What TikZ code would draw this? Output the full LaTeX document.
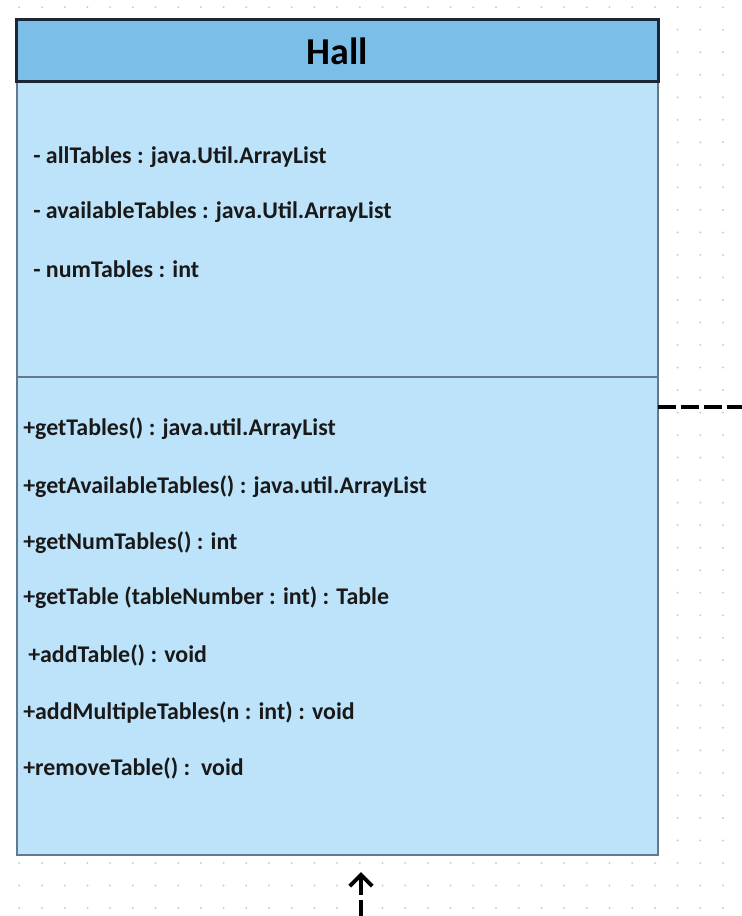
\documentclass[tikz,border=0pt]{standalone}
\usepackage{fontspec}
\setmainfont{Carlito}
\definecolor{HeaderColor}{RGB}{123,190,232}
\definecolor{BodyColor}{RGB}{189,227,251}
\definecolor{EdgeColor}{RGB}{27,40,52}
\definecolor{LineColor}{RGB}{98,122,140}
\definecolor{DotColor}{RGB}{205,205,205}
\usepackage{tikz}
\usetikzlibrary{positioning, arrows.meta}
\tikzstyle{header} = [rectangle, draw=EdgeColor, line width=2.1pt, fill=HeaderColor, outer sep=0pt, minimum width=16.025cm, minimum height=1.55cm, font=\fontsize{27}{32}\selectfont\bfseries]
\tikzstyle{section} = [rectangle, draw=LineColor, line width=1.4pt, fill=BodyColor, outer sep=0pt, inner sep=0pt, minimum width=16.025cm]
\tikzstyle{member} = [anchor=west, inner sep=0pt, text=black!90, font=\fontsize{17}{20}\selectfont\bfseries]
\tikzstyle{dep} = [line width=2.8pt, black, dash pattern=on 12.8pt off 3.5pt]

\begin{document}
\begin{tikzpicture}[x=0.025cm, y=-0.025cm]
            % Hall class box on a dotted canvas
            \useasboundingbox (0,0) rectangle (742,916);
            \foreach \i in {0,...,32}
                \foreach \j in {0,...,40}
                    \fill[DotColor] (19.3+22.7*\i, 7.2+22.52*\j) circle[radius=0.8pt];
            \node[section, minimum height=7.375cm] (attrs) at (337.5,229.5) {};
            \node[section, minimum height=11.95cm, below=0pt of attrs] (methods) {};
            \node[header, above=0pt of attrs] (hall) {Hall};
            \node[member] (a1) at (33,157) {- allTables : java.Util.ArrayList};
            \node[member] (a2) at (33,212) {- availableTables : java.Util.ArrayList};
            \node[member] (a3) at (33,269) {- numTables : int};
            \node[member] (m1) at (23,429) {+getTables() : java.util.ArrayList};
            \node[member] (m2) at (23,487) {+getAvailableTables() : java.util.ArrayList};
            \node[member] (m3) at (23,543) {+getNumTables() : int};
            \node[member] (m4) at (23,598) {+getTable (tableNumber : int) : Table};
            \node[member] (m5) at (28,655) {+addTable() : void};
            \node[member] (m6) at (23,712) {+addMultipleTables(n : int) : void};
            \node[member] (m7) at (23,768) {+removeTable() :\ \ void};
            \coordinate (out) at (760,407);
            \coordinate (in) at (361,940);
            \draw[dep] (methods.east |- out) -- (out);
            \draw[dep, {Straight Barb[length=8pt, width=16pt]}-, shorten <=0.425cm] (methods.south -| in) -- (in);
        \end{tikzpicture}
\end{document}
